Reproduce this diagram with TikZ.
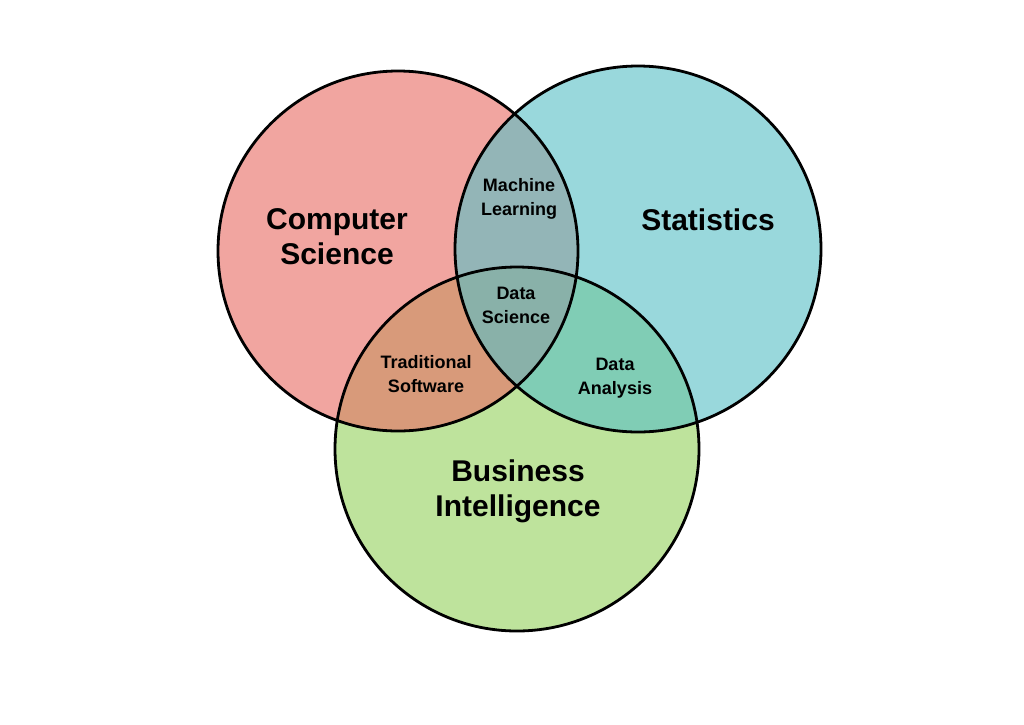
\documentclass[tikz,border=0pt]{standalone}
\usepackage{fontspec}
\setmainfont{Liberation Sans}
\begin{document}
\begin{tikzpicture}[x=1pt,y=-1pt,
  circ/.style={fill opacity=0.62},
  ring/.style={draw=black,line width=2.8pt},
  big/.style={font=\bfseries\fontsize{30}{35}\selectfont,align=center},
  small/.style={font=\bfseries\fontsize{18}{24}\selectfont,align=center}]
\useasboundingbox (0,0) rectangle (1024,724);
\definecolor{cred}{RGB}{232,110,102}
\definecolor{cteal}{RGB}{90,192,198}
\definecolor{cgreen}{RGB}{150,210,95}
\path[circ,fill=cgreen] (517,449) circle (182);
\path[circ,fill=cred] (398,251) circle (180);
\path[circ,fill=cteal] (638,249) circle (183);
\draw[ring] (398,251) circle (180);
\draw[ring] (638,249) circle (183);
\draw[ring] (517,449) circle (182);
\node[big] (cs) at (337,237) {Computer\\Science};
\node[big] (st) at (708,220) {Statistics};
\node[big] (bi) at (518,491) {Business\\Intelligence};
\node[small] (ml) at (519,199) {Machine\\Learning};
\node[small] (ds) at (516,305) {Data\\Science};
\node[small] (ts) at (426,374) {Traditional\\Software};
\node[small] (da) at (615,378) {Data\\Analysis};
\end{tikzpicture}
\end{document}
